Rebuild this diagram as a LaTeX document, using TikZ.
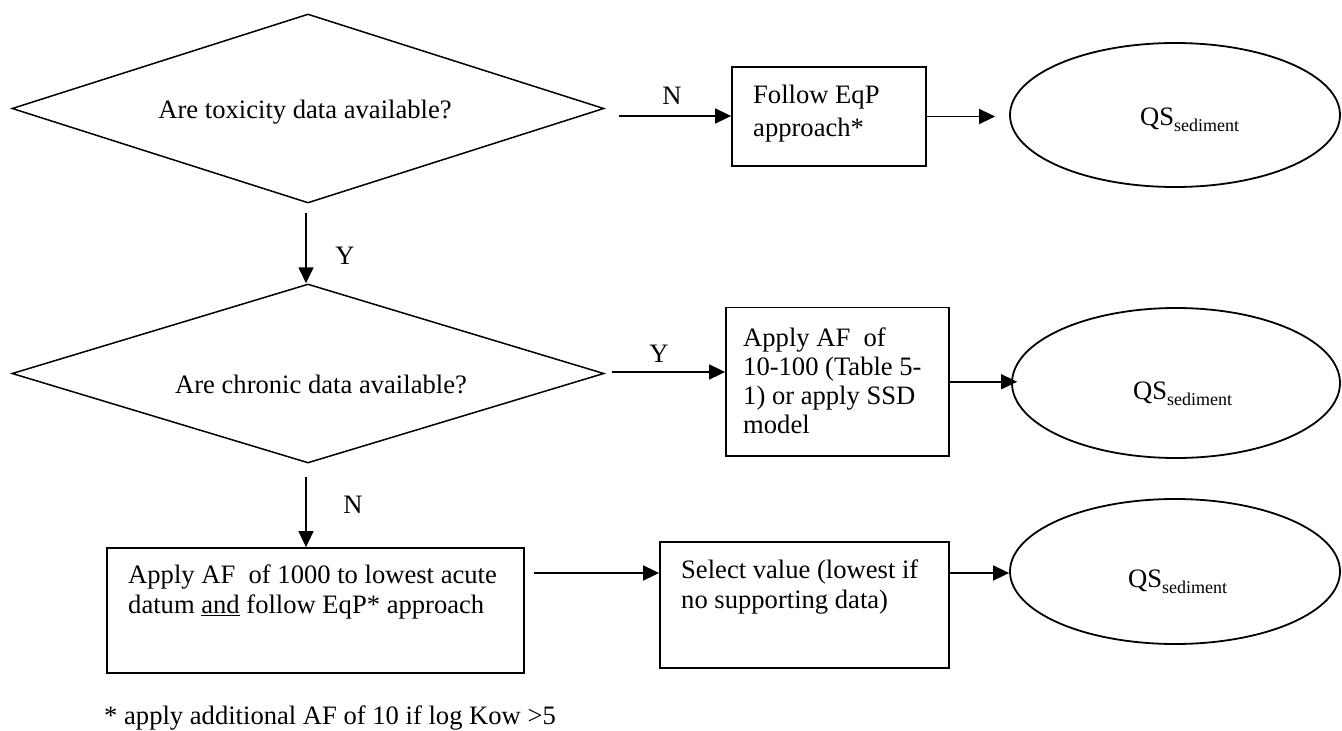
\documentclass[tikz,border=0pt]{standalone}
\usepackage{fontspec}
\setmainfont{Liberation Serif}
\usetikzlibrary{shapes.geometric,arrows.meta,calc}
\newcommand{\qssed}{QS\raisebox{-6pt}{\fontsize{18}{18}\selectfont sediment}}
\begin{document}
\begin{tikzpicture}[x=1pt,y=-1pt,
  every node/.style={font=\fontsize{26.6}{30}\selectfont},
  decision/.style={draw=black, line width=1.5pt, diamond, inner sep=0pt},
  procbox/.style={draw=black, line width=1.8pt, rectangle, inner sep=0pt},
  result/.style={draw=black, line width=1.8pt, ellipse, inner sep=0pt},
  txt/.style={inner sep=0pt, anchor=north west, align=left},
  lbl/.style={inner sep=0pt, anchor=base},
  arr/.style={line width=1.7pt, -{Triangle[length=16pt,width=15pt]}}
]
\useasboundingbox (0,0) rectangle (1342,731);

% shapes
\node[decision, minimum width=592pt, minimum height=189pt] (d1) at (308,108.5) {};
\node[decision, minimum width=592pt, minimum height=179pt] (d2) at (308,373.5) {};
\node[procbox, minimum width=194pt, minimum height=99pt] (b1) at (829,116.5) {};
\node[procbox, minimum width=223pt, minimum height=148.5pt] (b2) at (837.5,381.75) {};
\node[procbox, minimum width=417pt, minimum height=125pt] (b3) at (315.5,610.5) {};
\node[procbox, minimum width=289pt, minimum height=126pt] (b4) at (804.5,605) {};
\node[result, minimum width=330pt, minimum height=144pt] (e1) at (1175,115) {};
\node[result, minimum width=328pt, minimum height=150pt] (e2) at (1176,383) {};
\node[result, minimum width=330pt, minimum height=145pt] (e3) at (1175,571.5) {};

% texts
\node[lbl] (t1) at (305,118) {Are toxicity data available?};
\node[lbl] (t2) at (321,393) {Are chronic data available?};
\node[txt, font=\fontsize{26.6}{33}\selectfont] (tb1) at (753,79.9) {\strut Follow EqP\\approach*};
\node[txt, font=\fontsize{26.6}{29}\selectfont] (tb2) at (743,325.7) {\strut Apply AF\ \ of\\10-100 (Table 5-\\1) or apply SSD\\model};
\node[txt, font=\fontsize{26.6}{30}\selectfont] (tb3) at (128,562) {\strut Apply AF\ \ of 1000 to lowest acute\\datum \underline{and} follow EqP* approach};
\node[txt, font=\fontsize{26.6}{30}\selectfont] (tb4) at (681,557) {\strut Select value (lowest if\\no supporting data)};
\node[inner sep=0pt, anchor=base west] (q1) at (1140,125) {\qssed};
\node[inner sep=0pt, anchor=base west] (q2) at (1133,399) {\qssed};
\node[inner sep=0pt, anchor=base west] (q3) at (1128,587) {\qssed};
\node[inner sep=0pt, anchor=base west] (fn) at (104,724) {* apply additional AF of 10 if log Kow >5};

% connector labels
\node[lbl] (ln1) at (672,104) {N};
\node[lbl] (ly1) at (345,264) {Y};
\node[lbl] (ly2) at (659,362) {Y};
\node[lbl] (ln2) at (353,513) {N};

% connectors
\coordinate (s1) at ([xshift=14pt,yshift=-7.5pt]d1.east);
\draw[arr] (s1) -- (s1 -| b1.west);
\draw[arr, shorten >=14pt] (b1.east) -- (b1.east -| e1.west);
\draw[arr] ([xshift=-2pt,yshift=-9pt]d1.south) -- ([xshift=-2pt]d2.north);
\coordinate (s2) at ([xshift=7pt,yshift=1.5pt]d2.east);
\draw[arr] (s2) -- (s2 -| b2.west);
\draw[arr, shorten >=-6pt] (b2.east) -- (b2.east -| e2.west);
\coordinate (s3) at ([xshift=-2pt,yshift=-13pt]d2.south);
\draw[arr] (s3) -- (s3 |- b3.north);
\coordinate (s4) at ($(b3.east)+(9,-37.5)$);
\draw[arr] (s4) -- (s4 -| b4.west);
\coordinate (s5) at ($(b4.east)+(0,-32)$);
\draw[arr] (s5) -- (s5 -| e3.west);
\end{tikzpicture}
\end{document}
